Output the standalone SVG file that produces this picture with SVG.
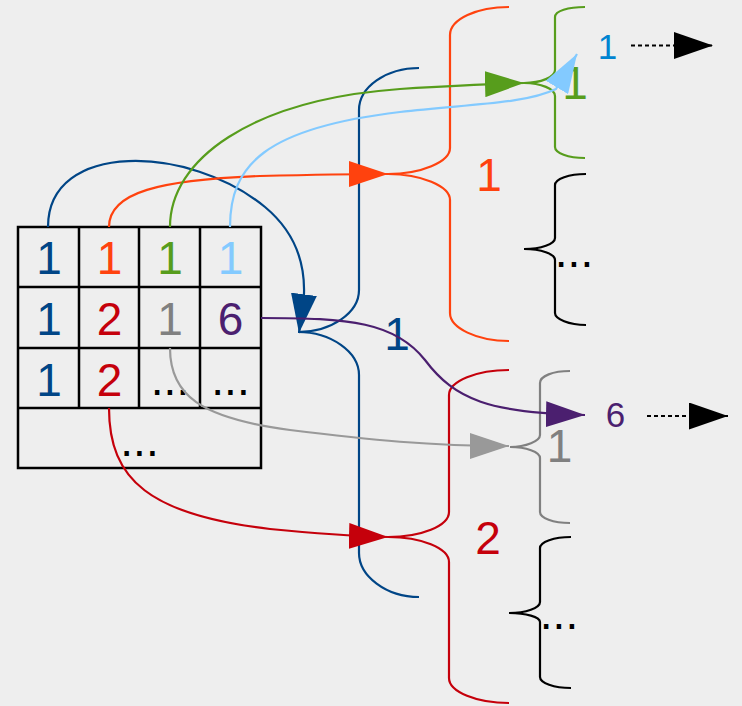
<svg xmlns="http://www.w3.org/2000/svg" width="742" height="706" viewBox="0 0 742 706">
<defs>
<style>
.t{font-family:"Liberation Sans",Arial,sans-serif;text-anchor:middle}
.big{font-size:46px}
.sm{font-size:35px}
.grid{fill:none;stroke:#000;stroke-width:2.5}
.br{fill:none;stroke-width:2.2}
.c{fill:none;stroke-width:2.2}
.dot{fill:none;stroke:#000;stroke-width:2.2;stroke-dasharray:4 3}
</style>
<marker id="mBlue" markerUnits="userSpaceOnUse" markerWidth="39" markerHeight="26" viewBox="0 0 39 26" refX="39" refY="13" orient="auto"><path d="M0,0L39,13L0,26z" fill="#004586"/></marker>
<marker id="mOrange" markerUnits="userSpaceOnUse" markerWidth="39" markerHeight="26" viewBox="0 0 39 26" refX="39" refY="13" orient="auto"><path d="M0,0L39,13L0,26z" fill="#ff420e"/></marker>
<marker id="mGreen" markerUnits="userSpaceOnUse" markerWidth="39" markerHeight="26" viewBox="0 0 39 26" refX="39" refY="13" orient="auto"><path d="M0,0L39,13L0,26z" fill="#579d1c"/></marker>
<marker id="mLight" markerUnits="userSpaceOnUse" markerWidth="39" markerHeight="26" viewBox="0 0 39 26" refX="39" refY="13" orient="auto"><path d="M0,0L39,13L0,26z" fill="#83caff"/></marker>
<marker id="mPurple" markerUnits="userSpaceOnUse" markerWidth="39" markerHeight="26" viewBox="0 0 39 26" refX="39" refY="13" orient="auto"><path d="M0,0L39,13L0,26z" fill="#4b1f6f"/></marker>
<marker id="mGray" markerUnits="userSpaceOnUse" markerWidth="39" markerHeight="26" viewBox="0 0 39 26" refX="39" refY="13" orient="auto"><path d="M0,0L39,13L0,26z" fill="#999999"/></marker>
<marker id="mRed" markerUnits="userSpaceOnUse" markerWidth="39" markerHeight="26" viewBox="0 0 39 26" refX="39" refY="13" orient="auto"><path d="M0,0L39,13L0,26z" fill="#c5000b"/></marker>
<marker id="mBlack" markerUnits="userSpaceOnUse" markerWidth="39" markerHeight="27" viewBox="0 0 39 27" refX="39" refY="13.5" orient="auto"><path d="M0,0L39,13.5L0,27z" fill="#000"/></marker>
</defs>
<rect x="0" y="0" width="742" height="706" fill="#eeeeee"/>

<g id="table">
<rect class="grid" x="18" y="227" width="243" height="241"/>
<path class="grid" d="M79,227V408M139,227V408M200,227V408M18,287H261M18,348H261M18,408H261"/>
<text class="t big" x="49" y="274" fill="#004586">1</text>
<text class="t big" x="109.5" y="274" fill="#ff420e">1</text>
<text class="t big" x="170" y="274" fill="#579d1c">1</text>
<text class="t big" x="230.5" y="274" fill="#83caff">1</text>
<text class="t big" x="49" y="335" fill="#004586">1</text>
<text class="t big" x="109.5" y="335" fill="#c5000b">2</text>
<text class="t big" x="170" y="335" fill="#808080">1</text>
<text class="t big" x="230.5" y="335" fill="#4b1f6f">6</text>
<text class="t big" x="49" y="396" fill="#004586">1</text>
<text class="t big" x="109.5" y="396" fill="#c5000b">2</text>
<text class="t big" x="170" y="394.5" fill="#000">...</text>
<text class="t big" x="230.5" y="394.5" fill="#000">...</text>
<text class="t big" x="139.5" y="455.5" fill="#000">...</text>
</g>

<g id="brace-blue">
<path class="br" stroke="#004586" d="M419,68C386,68 359,87 359,110L359,290C359,313 331,332 298,332C331,332 359,352 359,375L359,553C359,576 386,597 419,597"/>
<text class="t big" x="397" y="350" fill="#004586">1</text>
</g>

<g id="brace-orange">
<path class="br" stroke="#ff420e" d="M509,7C477,7 450,19 450,35L450,148C450,162 421,174 388,174C421,174 450,186 450,200L450,313C450,328 477,341 509,341"/>
<text class="t big" x="489" y="191" fill="#ff420e">1</text>
</g>

<g id="brace-red">
<path class="br" stroke="#c5000b" d="M509,370C477,370 449,381 449,395L449,512C449,526 421,537 388,537C421,537 449,548 449,562L449,678C449,692 477,703 509,703"/>
<text class="t big" x="488" y="554" fill="#c5000b">2</text>
</g>

<g id="brace-green">
<path class="br" stroke="#579d1c" d="M585,7C568,7 555,11 555,17L555,70C555,77 541,83 524,83C541,83 555,89 555,96L555,147C555,153 568,158 585,158"/>
<text class="t big" x="575" y="99" fill="#579d1c">1</text>
</g>

<g id="brace-dots1">
<path class="br" stroke="#000" d="M586,174C569,174 555,179 555,185L555,238C555,244 541,249 524,249C541,249 555,254 555,260L555,313C555,319 569,325 586,325"/>
<text class="t big" x="574" y="266.5" fill="#000">...</text>
</g>

<g id="brace-gray">
<path class="br" stroke="#808080" d="M570,371C553,371 540,376 540,383L540,435C540,441 526,447 510,447C526,447 540,452 540,458L540,512C540,518 553,523 570,523"/>
<text class="t big" x="559.5" y="462" fill="#808080">1</text>
</g>

<g id="brace-dots2">
<path class="br" stroke="#000" d="M571,537C554,537 540,542 540,548L540,602C540,608 526,613 509,613C526,613 540,617 540,622L540,677C540,683 554,688 571,688"/>
<text class="t big" x="559" y="628.5" fill="#000">...</text>
</g>

<g id="leaf-1">
<text class="t sm" x="607.5" y="58.5" fill="#0084d1">1</text>
</g>

<g id="leaf-6">
<text class="t sm" x="615.5" y="426.5" fill="#4b1f6f">6</text>
</g>

<g id="connectors">
<path class="c" stroke="#004586" marker-end="url(#mBlue)" d="M48,227C48,140 190,145 265,207C295,232 305,262 304,294L299,333"/>
<path class="c" stroke="#ff420e" marker-end="url(#mOrange)" d="M109,227C109,192 160,180 260,176C300,175 340,174 388,174"/>
<path class="c" stroke="#579d1c" marker-end="url(#mGreen)" d="M170,227C170,160 250,100 400,89C450,86 490,84 524,83"/>
<path class="c" stroke="#83caff" marker-end="url(#mLight)" d="M230,227C230,165 265,128 400,112C470,104 525,104 556,89L577,54"/>
<path class="c" stroke="#4b1f6f" marker-end="url(#mPurple)" d="M261,318C350,318 395,322 425,360C455,400 490,413 585,415"/>
<path class="c" stroke="#999999" marker-end="url(#mGray)" d="M170,348C170,395 200,418 290,430C370,440 430,446 509,446"/>
<path class="c" stroke="#c5000b" marker-end="url(#mRed)" d="M109,408C109,480 150,515 270,529C320,534 350,536 388,537"/>
<path class="dot" marker-end="url(#mBlack)" d="M631,45.5L713,45.5"/>
<path class="dot" marker-end="url(#mBlack)" d="M647,416L728,416"/>
</g>
</svg>
